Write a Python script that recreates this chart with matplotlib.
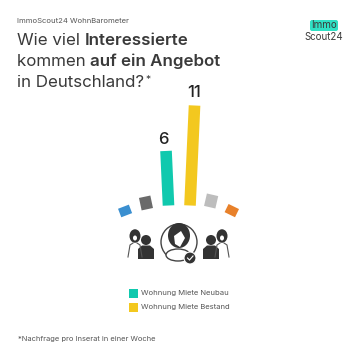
import matplotlib
matplotlib.use('Agg')
import matplotlib.pyplot as plt
from matplotlib.patches import Rectangle, Ellipse, Circle, Polygon, FancyBboxPatch
from matplotlib.transforms import Affine2D

# Values (only 6 and 11 are printed, the rest estimated)
bar_values = [1.0, 1.4, 6, 11, 1.4, 1.0]
bar_colors = ['#3a8fd0', '#6a6a6a', '#10c9ae', '#f3c81f', '#bdbdbd', '#e8812a']
bar_labels = ['', '', '6', '11', '', '']
bar_angles = [-21, -12, -2.6, 2.6, 13, 26]
bar_x = [126.7, 147.3, 168.5, 190, 209.7, 229.8]
bar_y = [215.2, 209.2, 205.5, 205.5, 207.2, 214.7]
label_dx = [0, 0, -2.5, 0, 0, 0]
label_dy = [0, 0, -4, -6, 0, 0]
legend_labels = ['Wohnung Miete Neubau', 'Wohnung Miete Bestand']
legend_colors = ['#10c9ae', '#f3c81f']

plt.rcParams['font.family'] = ['Inter', 'DejaVu Sans']
dark = '#3a3a3a'
grey = '#555555'

fig = plt.figure(figsize=(3.6, 3.6), dpi=100)
ax = fig.add_axes([0, 0, 1, 1])
ax.set_xlim(0, 360)
ax.set_ylim(360, 0)
ax.axis('off')

# Header
ax.text(17, 21, 'ImmoScout24 WohnBarometer', fontsize=5.5, color=grey, va='center')


def title_line(y, parts):
	prev = None
	for txt, weight in parts:
		if prev is None:
			prev = ax.text(17, y, txt, fontsize=12.2, color=dark, fontweight=weight, va='baseline')
		else:
			prev = ax.annotate(txt, xy=(1, 0), xycoords=prev, xytext=(0, 0), textcoords='offset points',
				fontsize=12.2, color=dark, fontweight=weight, va='bottom', ha='left')
	return prev


title_line(45, [('Wie viel ', 'normal'), ('Interessierte', 'semibold')])
title_line(66, [('kommen ', 'normal'), ('auf ein Angebot', 'semibold')])
title_line(87, [('in Deutschland?', 'normal')])
ax.text(145, 80, '*', fontsize=7.5, color=dark, va='center', ha='left')

# Logo
ax.add_patch(FancyBboxPatch((312, 22), 24, 7, boxstyle='round,pad=2', fc='#2fe0c4', ec='none'))
ax.text(323.5, 25.5, 'Immo', fontsize=7, color=dark, ha='center', va='center')
ax.text(323.5, 36.5, 'Scout24', fontsize=7, color=dark, ha='center', va='center')

# Bars, drawn from a value scale and rotated around their foot
scale = 9.1
for val, col, lab, ang, x, y, dx, dy in zip(bar_values, bar_colors, bar_labels, bar_angles, bar_x, bar_y, label_dx, label_dy):
	rect = Rectangle((-5.8, -val * scale), 11.6, val * scale, fc=col, ec='none')
	rect.set_transform(Affine2D().rotate_deg(ang).translate(x, y) + ax.transData)
	ax.add_patch(rect)
	if lab:
		top = Affine2D().rotate_deg(ang).translate(x, y).transform((0, -val * scale))
		ax.text(top[0] + dx, top[1] + dy, lab, fontsize=12, fontweight='medium', color='#222222',
			ha='center', va='bottom')


# Small people icons
def man(x, y):
	ax.add_patch(Circle((x, y), 5, fc='#333333', ec='none'))
	ax.add_patch(Polygon([(x - 8, y + 19), (x - 8, y + 9), (x - 4, y + 5.5), (x + 4, y + 5.5),
		(x + 8, y + 9), (x + 8, y + 19)], fc='#333333', ec='none'))


def woman(x, y):
	ax.add_patch(Ellipse((x, y), 11, 13.5, fc='#333333', ec='none'))
	ax.add_patch(Ellipse((x, y + 2), 4, 5, fc='white', ec='none'))
	ax.plot([x - 7, x - 5, x - 2], [y + 21, y + 9, y + 7], color='#555555', lw=0.8)
	ax.plot([x + 7, x + 5, x + 2], [y + 21, y + 9, y + 7], color='#555555', lw=0.8)


woman(135, 236)
man(146, 240)
woman(222, 236)
man(211, 240)

# Centre icon
ax.add_patch(Circle((179, 242), 18, fc='none', ec='#444444', lw=1))
ax.add_patch(Ellipse((179, 235.5), 22, 25, fc='#333333', ec='none'))
ax.add_patch(Polygon([(174, 236), (181, 231), (185, 238), (180, 247), (175, 244)], fc='white', ec='none'))
ax.add_patch(Ellipse((178, 255), 24, 12, fc='white', ec='#444444', lw=1))
ax.add_patch(Circle((190, 258), 6, fc='#333333', ec='white', lw=0.8))
ax.plot([187.5, 189.5, 193], [258, 260, 256], color='white', lw=0.8)

# Legend
for i in range(2):
	y = 293 + i * 14.5
	ax.add_patch(Rectangle((128.5, y - 4.5), 9, 9, fc=legend_colors[i], ec='none'))
	ax.text(141, y, legend_labels[i], fontsize=5.5, color=grey, va='center')

# Footnote
ax.text(18, 339, '*Nachfrage pro Inserat in einer Woche', fontsize=5.4, color=grey, va='center')

fig.savefig('out.png', dpi=100, facecolor='white')
plt.close()
